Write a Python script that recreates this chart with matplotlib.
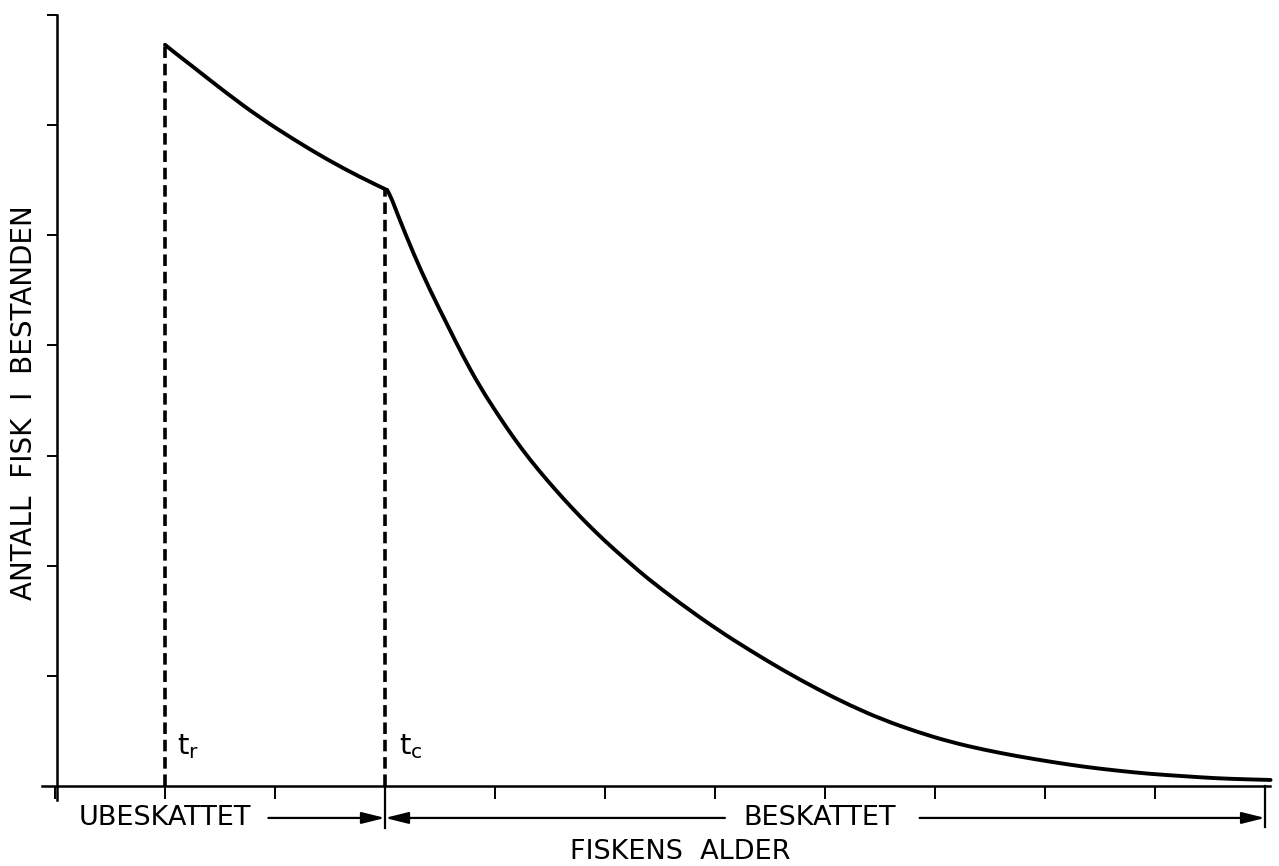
import matplotlib
matplotlib.use("Agg")
import matplotlib.pyplot as plt
from matplotlib.path import Path
from matplotlib.patches import PathPatch

# Data (x: age units, y: number of fish units)
# before t_c (only natural mortality)
age_unfished = [1.0, 1.06, 1.255, 1.56, 1.86, 2.17, 2.47, 2.77, 3.02]
n_unfished = [6.73, 6.68, 6.53, 6.29, 6.07, 5.87, 5.69, 5.53, 5.41]
# after t_c (fishing + natural mortality)
age_fished = [3.02, 3.05, 3.11, 3.26, 3.41, 3.56, 3.71, 3.86, 4.02, 4.17, 4.32,
              4.47, 4.62, 4.77, 4.92, 5.07, 5.23, 5.38, 5.68, 6.02, 6.32, 6.62,
              6.93, 7.23, 7.53, 7.84, 8.14, 8.44, 8.75, 9.05, 9.35, 9.65, 9.95,
              10.25, 10.55, 10.85, 11.05]
n_fished = [5.41, 5.36, 5.20, 4.83, 4.50, 4.20, 3.90, 3.63, 3.38, 3.16, 2.96,
            2.78, 2.61, 2.45, 2.30, 2.16, 2.02, 1.89, 1.66, 1.42, 1.23, 1.05,
            0.88, 0.73, 0.60, 0.49, 0.40, 0.33, 0.27, 0.22, 0.175, 0.14, 0.11,
            0.09, 0.07, 0.06, 0.055]
t_r = 1.0
t_c = 3.0
t_end = 11.0
n_at_tr = 6.73
n_at_tc = 5.41
x_ticks = list(range(0, 12))
y_ticks = list(range(1, 8))

plt.rcParams['font.family'] = ['DejaVu Sans']
plt.rcParams['mathtext.fontset'] = 'dejavusans'

fig = plt.figure(figsize=(12.79, 8.66), dpi=100)
ax = fig.add_axes([42/1279, 80/866, (1270-42)/1279, (786-15)/866])
ax.set_xlim(-0.118, 11.045)
ax.set_ylim(0, 7)

for s in ['top', 'right']:
    ax.spines[s].set_visible(False)
ax.spines['left'].set_position(('data', 0.02))
ax.spines['left'].set_bounds(-0.13, 7)
ax.spines['left'].set_linewidth(1.8)
ax.spines['bottom'].set_linewidth(1.8)
ax.set_xticks(x_ticks)
ax.set_yticks(y_ticks)
ax.set_xticklabels([])
ax.set_yticklabels([])
ax.tick_params(axis='x', direction='out', length=9, width=1.4, color='black')
ax.tick_params(axis='y', direction='out', length=7, width=1.4, color='black')


def smooth_path(xs, ys):
    pts = list(zip(xs, ys))
    verts = [pts[0]]
    codes = [Path.MOVETO]
    for i in range(1, len(pts) - 1):
        mid = ((pts[i][0] + pts[i + 1][0]) / 2, (pts[i][1] + pts[i + 1][1]) / 2)
        verts += [pts[i], mid]
        codes += [Path.CURVE3, Path.CURVE3]
    verts.append(pts[-1])
    codes.append(Path.LINETO)
    return Path(verts, codes)


for xs, ys in [(age_unfished, n_unfished), (age_fished, n_fished)]:
    ax.add_patch(PathPatch(smooth_path(xs, ys), facecolor='none', edgecolor='black',
                           lw=2.8, capstyle='round', joinstyle='round', clip_on=False))

# dashed verticals
ax.plot([t_r, t_r], [0, n_at_tr], color='black', lw=2.6, ls=(0, (3.2, 1.6)), clip_on=False)
ax.plot([t_c, t_c], [0, n_at_tc], color='black', lw=2.6, ls=(0, (3.2, 1.6)), clip_on=False)

# separators below axis
ax.plot([t_c, t_c], [0, -0.38], color='black', lw=1.6, clip_on=False)
ax.plot([t_end, t_end], [0, -0.37], color='black', lw=1.6, clip_on=False)

ya = -0.29
ap = dict(arrowstyle='-|>,head_length=1.4,head_width=0.35', color='black', lw=1.6,
          shrinkA=0, shrinkB=0)
ax.annotate('', xy=(t_c, ya), xytext=(1.94, ya), arrowprops=ap, annotation_clip=False)
ax.annotate('', xy=(t_c, ya), xytext=(6.09, ya), arrowprops=ap, annotation_clip=False)
ax.annotate('', xy=(t_end, ya), xytext=(7.86, ya), arrowprops=ap, annotation_clip=False)

fs = 19.5
ax.text(1.0, ya, 'UBESKATTET', ha='center', va='center', fontsize=fs, clip_on=False)
ax.text(6.95, ya, 'BESKATTET', ha='center', va='center', fontsize=fs, clip_on=False)
ax.text(5.68, -0.6, 'FISKENS  ALDER', ha='center', va='center', fontsize=fs, clip_on=False)
ax.text(-0.28, 3.48, 'ANTALL  FISK  I  BESTANDEN', ha='center', va='center',
        rotation=90, fontsize=20, clip_on=False)

ax.text(1.11, 0.29, r'$\mathregular{t_r}$', ha='left', va='baseline', fontsize=21)
ax.text(3.13, 0.29, r'$\mathregular{t_c}$', ha='left', va='baseline', fontsize=21)

fig.savefig('out.png', dpi=100)
